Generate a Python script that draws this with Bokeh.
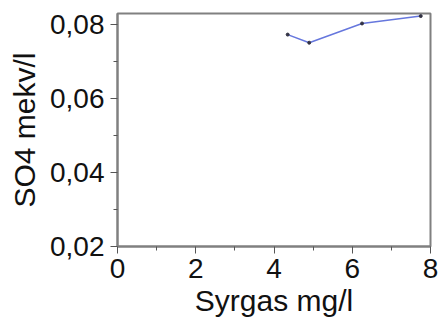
from bokeh.plotting import figure
from bokeh.models import FixedTicker, Range1d
from bokeh.embed import file_html
from bokeh.resources import INLINE

# data
syrgas = [4.35, 4.9, 6.25, 7.75]
so4 = [0.0773, 0.0751, 0.0803, 0.0823]

x_ticks = [0, 2, 4, 6, 8]
x_minor = [1, 3, 5, 7]
x_tick_labels = ["0", "2", "4", "6", "8"]
y_ticks = [0.02, 0.04, 0.06, 0.08]
y_minor = [0.03, 0.05, 0.07]
y_tick_labels = ["0,02", "0,04", "0,06", "0,08"]

FONT = "Liberation Sans"

p = figure(width=438, height=320, output_backend="svg", toolbar_location=None,
           x_range=Range1d(0, 8), y_range=Range1d(0.02, 0.083),
           min_border_left=117, min_border_right=8, min_border_top=13, min_border_bottom=74)
p.grid.visible = False
p.outline_line_color = "#808080"
p.outline_line_width = 2
p.background_fill_color = "white"
p.border_fill_color = "white"

p.line(syrgas, so4, line_color="#6677dd", line_width=1.5)
p.scatter(syrgas, so4, size=3, color="#333344")

p.xaxis.ticker = FixedTicker(ticks=x_ticks, minor_ticks=x_minor)
p.yaxis.ticker = FixedTicker(ticks=y_ticks, minor_ticks=y_minor)
p.xaxis.major_label_overrides = dict(zip(x_ticks, x_tick_labels))
p.yaxis.major_label_overrides = dict(zip(y_ticks, y_tick_labels))

p.xaxis.axis_label = "Syrgas mg/l"
p.yaxis.axis_label = "SO4 mekv/l"

for ax in (p.xaxis[0], p.yaxis[0]):
    ax.axis_line_color = "#808080"
    ax.axis_line_width = 2
    ax.major_tick_line_color = "#555555"
    ax.minor_tick_line_color = "#555555"
    ax.major_tick_in = 0
    ax.major_tick_out = 7
    ax.minor_tick_in = 0
    ax.minor_tick_out = 4
    ax.major_label_text_font = FONT
    ax.major_label_text_font_size = "28px"
    ax.major_label_text_color = "#111111"
    ax.axis_label_text_font = FONT
    ax.axis_label_text_font_size = "30px"
    ax.axis_label_text_font_style = "normal"
    ax.axis_label_text_color = "#111111"

p.xaxis.major_label_standoff = 5
p.yaxis.major_label_standoff = 6
p.xaxis.axis_label_standoff = 3
p.yaxis.axis_label_standoff = 6

open("out.html", "w").write(file_html(p, INLINE))
